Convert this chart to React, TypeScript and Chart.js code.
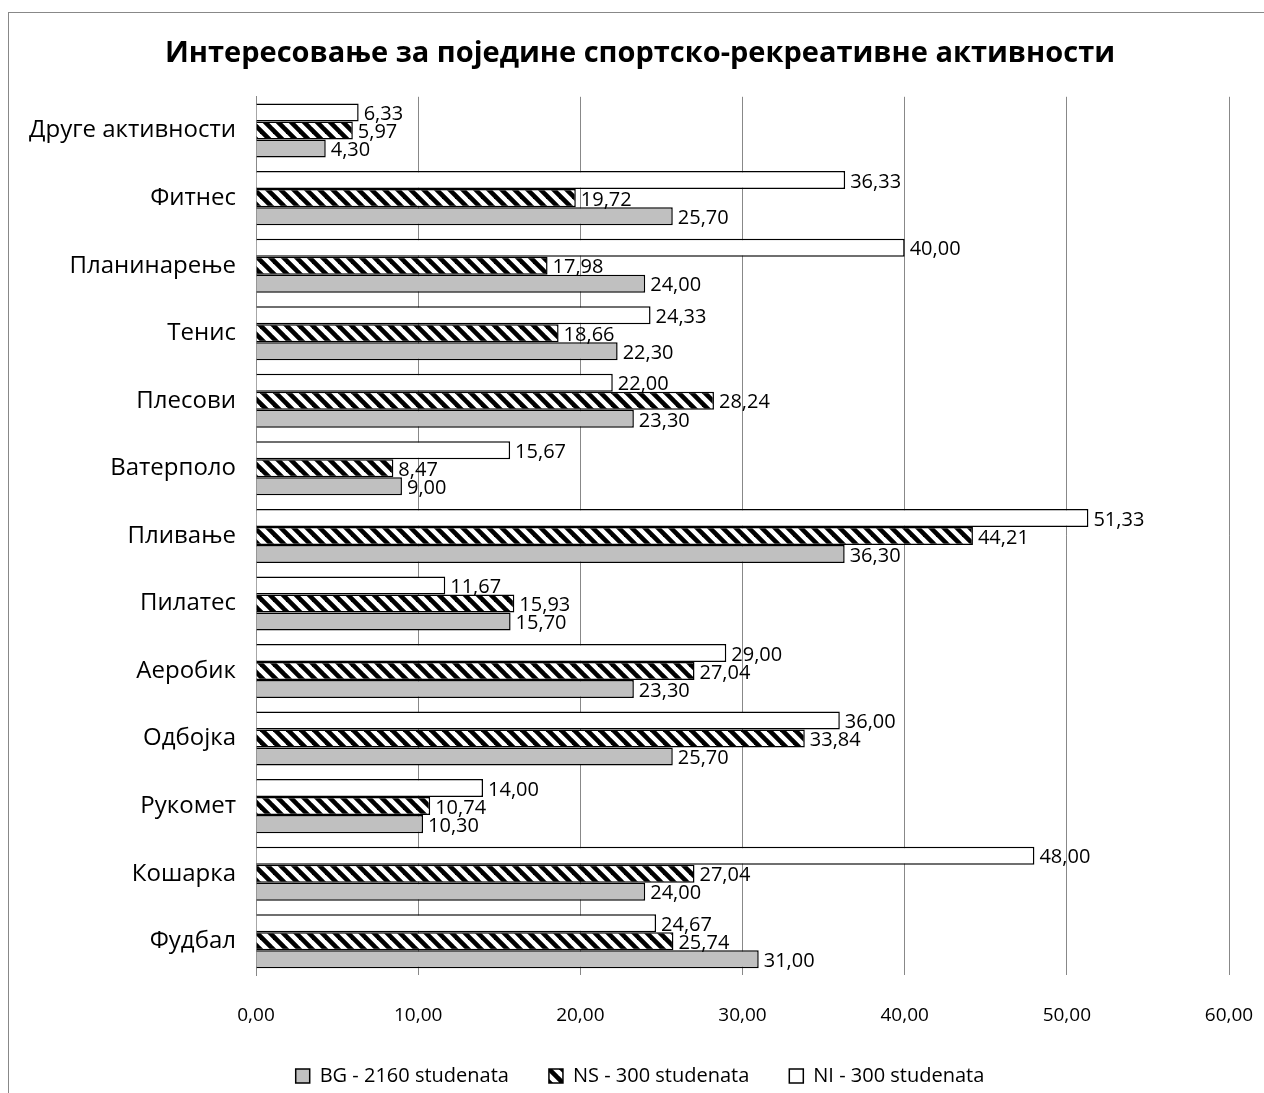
import React, { useEffect, useRef } from "react";
import { Chart, registerables } from "chart.js";

Chart.register(...registerables);

const TITLE = "Интересовање за поједине спортско-рекреативне активности";

const categories = [
  "Друге активности",
  "Фитнес",
  "Планинарење",
  "Тенис",
  "Плесови",
  "Ватерполо",
  "Пливање",
  "Пилатес",
  "Аеробик",
  "Одбојка",
  "Рукомет",
  "Кошарка",
  "Фудбал",
];

const niValues = [6.33, 36.33, 40.0, 24.33, 22.0, 15.67, 51.33, 11.67, 29.0, 36.0, 14.0, 48.0, 24.67];
const nsValues = [5.97, 19.72, 17.98, 18.66, 28.24, 8.47, 44.21, 15.93, 27.04, 33.84, 10.74, 27.04, 25.74];
const bgValues = [4.3, 25.7, 24.0, 22.3, 23.3, 9.0, 36.3, 15.7, 23.3, 25.7, 10.3, 24.0, 31.0];

const seriesLabels = ["NI - 300 studenata", "NS - 300 studenata", "BG - 2160 studenata"];

const xTicks = [0, 10, 20, 30, 40, 50, 60];

const FONT = "'Open Sans', 'DejaVu Sans', sans-serif";

const fmt = (v: number) => v.toFixed(2).replace(".", ",");

function makeHatch(): CanvasPattern | string {
  const P = 13;
  const c = document.createElement("canvas");
  c.width = P;
  c.height = P;
  const g = c.getContext("2d");
  if (!g) return "#000";
  g.fillStyle = "#fff";
  g.fillRect(0, 0, P, P);
  g.strokeStyle = "#000";
  g.lineWidth = 4.6;
  for (const k of [-P, 0, P]) {
    g.beginPath();
    g.moveTo(-2, -2 + k);
    g.lineTo(P + 2, P + 2 + k);
    g.stroke();
  }
  const ctx = document.createElement("canvas").getContext("2d");
  return ctx ? (ctx.createPattern(c, "repeat") as CanvasPattern) : "#000";
}

const bgPlugin = {
  id: "frame",
  beforeDraw(chart: any) {
    const ctx = chart.ctx;
    ctx.save();
    ctx.fillStyle = "#fff";
    ctx.fillRect(0, 0, chart.width, chart.height);
    ctx.strokeStyle = "#888";
    ctx.lineWidth = 1;
    ctx.strokeRect(8.5, 12.5, chart.width + 20, chart.height + 20);
    ctx.restore();
  },
};

// Centre the title and legend on the whole frame rather than on the padded box.
const centrePlugin = {
  id: "centreBoxes",
  afterLayout(chart: any) {
    const target = 640;
    if (chart.titleBlock) {
      const s = target - (chart.titleBlock.left + chart.titleBlock.right) / 2;
      chart.titleBlock.left += s;
      chart.titleBlock.right += s;
    }
    if (chart.legend) {
      const s = target - (chart.legend.left + chart.legend.right) / 2;
      chart.legend.left += s;
      chart.legend.right += s;
      chart.legend.top += 3;
      chart.legend.bottom += 3;
    }
  },
};

const labelPlugin = {
  id: "valueLabels",
  afterDatasetsDraw(chart: any) {
    const ctx = chart.ctx;
    ctx.save();
    ctx.font = `20px ${FONT}`;
    ctx.fillStyle = "#000";
    ctx.textAlign = "left";
    ctx.textBaseline = "middle";
    chart.data.datasets.forEach((ds: any, i: number) => {
      const meta = chart.getDatasetMeta(i);
      meta.data.forEach((el: any, j: number) => {
        ctx.fillText(fmt(ds.data[j]), el.x + 5, el.y + 2);
      });
    });
    ctx.restore();
  },
};

export default function App() {
  const ref = useRef<HTMLCanvasElement | null>(null);

  useEffect(() => {
    if (!ref.current) return;
    const hatch = makeHatch();
    const chart = new Chart(ref.current, {
      type: "bar",
      data: {
        labels: categories,
        datasets: [
          {
            label: seriesLabels[0],
            data: niValues,
            backgroundColor: "#ffffff",
            borderColor: "#000",
            borderWidth: 1.5,
          },
          {
            label: seriesLabels[1],
            data: nsValues,
            backgroundColor: hatch as any,
            borderColor: "#000",
            borderWidth: 1.5,
          },
          {
            label: seriesLabels[2],
            data: bgValues,
            backgroundColor: "#c0c0c0",
            borderColor: "#000",
            borderWidth: 1.5,
          },
        ],
      },
      options: {
        indexAxis: "y",
        responsive: false,
        animation: false,
        devicePixelRatio: 1,
        layout: { padding: { left: 0, right: 35, top: 12, bottom: 0 } },
        datasets: {
          bar: { categoryPercentage: 0.8, barPercentage: 1.0 },
        },
        scales: {
          x: {
            min: 0,
            max: 60,
            afterBuildTicks(scale: any) {
              scale.ticks = xTicks.map((v) => ({ value: v }));
            },
            afterFit(scale: any) {
              scale.height = 48;
              scale.paddingLeft = 0;
              scale.paddingRight = 0;
            },
            grid: { color: "#888", lineWidth: 1, drawTicks: false },
            border: { display: false },
            ticks: {
              padding: 29,
              color: "#000",
              font: { family: FONT, size: 19 },
              callback: (v: any) => fmt(Number(v)),
            },
          },
          y: {
            afterFit(scale: any) {
              scale.width = 256;
            },
            grid: { display: false },
            border: { display: true, color: "#888", width: 1 },
            ticks: {
              padding: 12,
              color: "#000",
              font: { family: FONT, size: 24 },
            },
          },
        },
        plugins: {
          title: {
            display: true,
            text: TITLE,
            color: "#000",
            font: { family: FONT, size: 29, weight: "bold" },
            padding: { top: 24, bottom: 26 },
          },
          legend: {
            position: "bottom",
            reverse: true,
            labels: {
              color: "#000",
              font: { family: FONT, size: 20 },
              boxWidth: 14,
              boxHeight: 14,
              padding: 40,
            },
          },
          tooltip: { enabled: false },
        },
      },
      plugins: [bgPlugin, centrePlugin, labelPlugin],
    });
    return () => chart.destroy();
  }, []);

  return (
    <div style={{ position: "absolute", left: 0, top: 0, width: 1264, height: 1093 }}>
      <canvas ref={ref} width={1264} height={1093} style={{ width: 1264, height: 1093 }} />
    </div>
  );
}
